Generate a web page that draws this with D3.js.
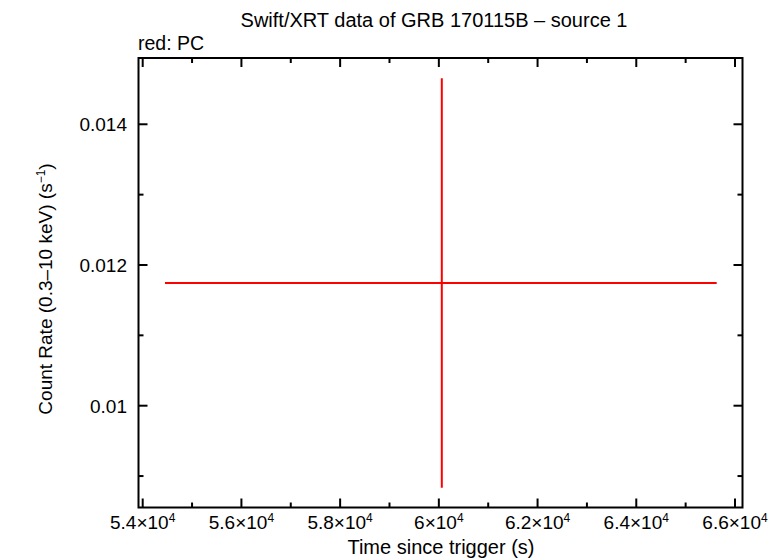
<!DOCTYPE html>
<html><head><meta charset="utf-8">
<script src="https://cdn.jsdelivr.net/npm/d3@7"></script>
<style>body{margin:0;background:#fff}svg{display:block}text{font-family:"Liberation Sans",Arial,sans-serif;fill:#000}</style>
</head><body>
<script>
const xMajorTicks = [54000, 56000, 58000, 60000, 62000, 64000, 66000];
const xTickMantissa = ["5.4", "5.6", "5.8", "6", "6.2", "6.4", "6.6"];
const xMinorTicks = [55000, 57000, 59000, 61000, 63000, 65000];
const yMajorTicks = [0.010, 0.012, 0.014];
const yTickLabels = ["0.01", "0.012", "0.014"];
const yMinorTicks = [0.009, 0.011, 0.013];
const pcTime = [60060];
const pcTimeLo = [54452];
const pcTimeHi = [65629];
const pcRate = [0.011744];
const pcRateLo = [0.008834];
const pcRateHi = [0.014654];

const W = 784, H = 558;
const L = 138.5, R = 742.5, T = 58, B = 507.5;
const svg = d3.select("body").append("svg").attr("width", W).attr("height", H);
const x = d3.scaleLinear().domain([53915, 66152]).range([L, R]);
const y = d3.scaleLinear().domain([0.008553, 0.014942]).range([B, T]);

svg.append("rect").attr("x", L).attr("y", T).attr("width", R - L).attr("height", B - T)
  .attr("fill", "none").attr("stroke", "#000").attr("stroke-width", 2);

const g = svg.append("g").attr("stroke", "#000").attr("stroke-width", 2);
const maj = 9, min = 5;
xMajorTicks.forEach(v => {
  g.append("line").attr("x1", x(v)).attr("x2", x(v)).attr("y1", B).attr("y2", B - maj);
  g.append("line").attr("x1", x(v)).attr("x2", x(v)).attr("y1", T).attr("y2", T + maj);
});
xMinorTicks.forEach(v => {
  g.append("line").attr("x1", x(v)).attr("x2", x(v)).attr("y1", B).attr("y2", B - min);
  g.append("line").attr("x1", x(v)).attr("x2", x(v)).attr("y1", T).attr("y2", T + min);
});
yMajorTicks.forEach(v => {
  g.append("line").attr("x1", L).attr("x2", L + maj).attr("y1", y(v)).attr("y2", y(v));
  g.append("line").attr("x1", R).attr("x2", R - maj).attr("y1", y(v)).attr("y2", y(v));
});
yMinorTicks.forEach(v => {
  g.append("line").attr("x1", L).attr("x2", L + min).attr("y1", y(v)).attr("y2", y(v));
  g.append("line").attr("x1", R).attr("x2", R - min).attr("y1", y(v)).attr("y2", y(v));
});

xMajorTicks.forEach((v, i) => {
  const t = svg.append("text").attr("x", x(v)).attr("y", 529).attr("text-anchor", "middle")
    .style("font-size", "19px");
  t.append("tspan").text(xTickMantissa[i] + "×10");
  t.append("tspan").attr("dy", -7).style("font-size", "12px").text("4");
});
yMajorTicks.forEach((v, i) => {
  svg.append("text").attr("x", 127).attr("y", y(v) + 7).attr("text-anchor", "end")
    .style("font-size", "19px").text(yTickLabels[i]);
});

svg.append("text").attr("x", 434).attr("y", 27).attr("text-anchor", "middle")
  .style("font-size", "20px").text("Swift/XRT data of GRB 170115B – source 1");
svg.append("text").attr("x", 138).attr("y", 50).style("font-size", "19.5px").text("red: PC");
svg.append("text").attr("x", 441).attr("y", 554).attr("text-anchor", "middle")
  .style("font-size", "20px").text("Time since trigger (s)");
const yl = svg.append("text").attr("transform", "translate(52,289) rotate(-90)")
  .attr("text-anchor", "middle").style("font-size", "19px");
yl.append("tspan").text("Count Rate (0.3–10 keV) (s");
yl.append("tspan").attr("dy", -7).style("font-size", "12px").text("−1");
yl.append("tspan").attr("dy", 7).text(")");

const d = pcTime.map((t, i) => ({t, lo: pcTimeLo[i], hi: pcTimeHi[i], r: pcRate[i], rlo: pcRateLo[i], rhi: pcRateHi[i]}));
const dg = svg.append("g").attr("stroke", "#ff0000").attr("stroke-width", 2);
dg.selectAll(".h").data(d).join("line").attr("x1", p => x(p.lo)).attr("x2", p => x(p.hi))
  .attr("y1", p => y(p.r)).attr("y2", p => y(p.r));
dg.selectAll(".v").data(d).join("line").attr("x1", p => x(p.t)).attr("x2", p => x(p.t))
  .attr("y1", p => y(p.rlo)).attr("y2", p => y(p.rhi));
</script>
</body></html>
